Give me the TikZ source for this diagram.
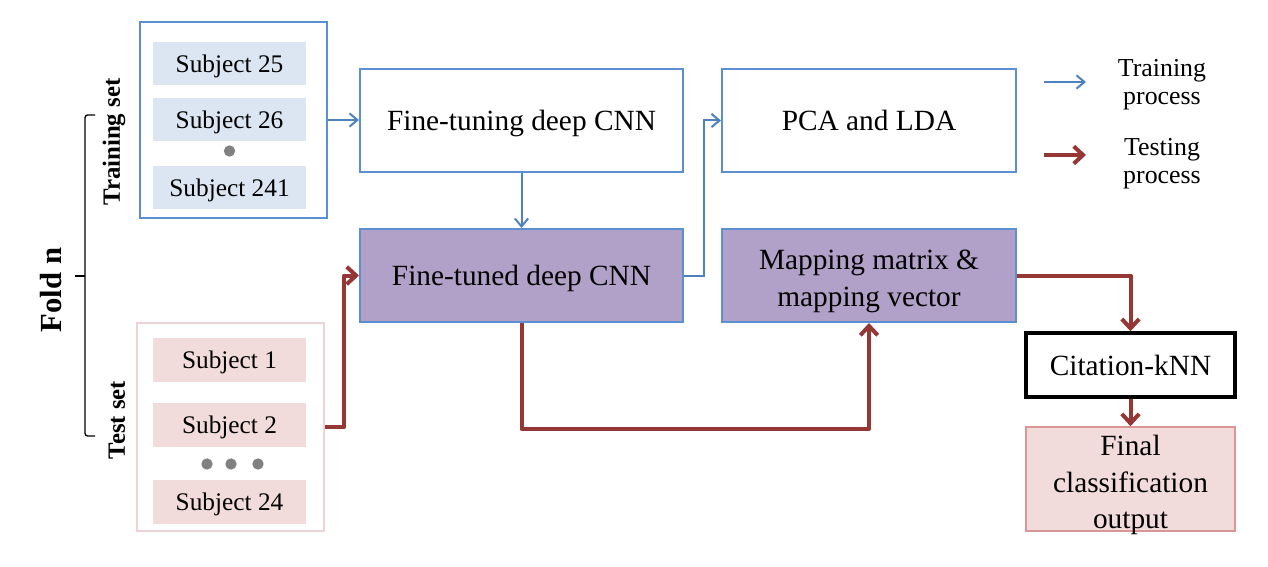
\documentclass[tikz,border=0pt]{standalone}
\usepackage{fontspec}
\setmainfont{Liberation Serif}
\usetikzlibrary{arrows.meta}
\definecolor{bline}{HTML}{4F81BD}
\definecolor{bbox}{HTML}{5B8FD2}
\definecolor{rline}{HTML}{953735}
\definecolor{purp}{HTML}{B1A0C7}
\definecolor{lblue}{HTML}{DCE6F2}
\definecolor{lpink}{HTML}{F2DCDB}
\definecolor{pinkbd}{HTML}{EDD3D3}
\definecolor{finbd}{HTML}{D99694}
\definecolor{dotgray}{HTML}{808080}
\begin{document}
\begin{tikzpicture}[x=0.75pt,y=-0.75pt,
  mainfont/.style={font=\fontsize{22}{27.5}\selectfont},
  subjfont/.style={font=\fontsize{19}{23}\selectfont},
  onelinemain/.style={text height=19.8pt,text depth=4.4pt},
  onelinesubj/.style={text height=17.1pt,text depth=3.8pt},
  bluebox/.style={draw=bbox,line width=1.5pt,inner sep=0pt,align=center,mainfont},
  purpbox/.style={bluebox,fill=purp},
  subjtrain/.style={fill=lblue,inner sep=0pt,minimum width=114.75pt,minimum height=32.25pt,subjfont,onelinesubj},
  subjtest/.style={fill=lpink,inner sep=0pt,minimum width=114.75pt,minimum height=33pt,subjfont,onelinesubj},
  barrow/.style={draw=bline,line width=1.5pt,-{Straight Barb[length=6pt,width=10pt,line width=1.5pt]}},
  rarrow/.style={draw=rline,line width=3pt,line join=round,-{Straight Barb[length=7pt,width=13pt,line width=3pt]}},
  legtext/.style={align=center,font=\fontsize{19.4}{21}\selectfont},
  sidelabel/.style={rotate=90,font=\bfseries\fontsize{18.6}{22}\selectfont},
  graydot/.style={circle,fill=dotgray,inner sep=0pt,minimum size=8.5pt}
]
\useasboundingbox (0,0) rectangle (1268,567);
\fill[white] (0,0) rectangle (1268,567);

% training set group
\node[draw=bbox,line width=1.5pt,inner sep=0pt,minimum width=140.25pt,minimum height=147pt] (train) at (233.5,120) {};
\node[subjtrain] (s25) at (229.5,63.5) {Subject 25};
\node[subjtrain] (s26) at (229.5,119.5) {Subject 26};
\node[graydot] (tdot) at (229.5,151) {};
\node[subjtrain] (s241) at (229.5,187.5) {Subject 241};

% test set group
\node[draw=pinkbd,line width=1.5pt,inner sep=0pt,minimum width=140.25pt,minimum height=156pt] (test) at (230.5,427) {};
\node[subjtest] (s1) at (229.5,360) {Subject 1};
\node[subjtest] (s2) at (229.5,425) {Subject 2};
\node[graydot] (d1) at (207,464) {};
\node[graydot] (d2) at (231,464) {};
\node[graydot] (d3) at (258,464) {};
\node[subjtest] (s24) at (229.5,501.5) {Subject 24};

% bracket and labels
\coordinate (bt) at (95,115);
\coordinate (bb) at (95,436);
\coordinate (bm) at (85,276);
\coordinate (bl) at (75,276);
\draw[line width=1pt,rounded corners=2pt] (bt) -- (85,115) -- (85,436) -- (bb);
\draw[line width=1pt] (bm) -- (bl);
\node[sidelabel] (trl) at (114,142) {Training set};
\node[sidelabel] (tel) at (117,420) {Test set};
\node[rotate=90,font=\bfseries\fontsize{23}{27}\selectfont] (fold) at (51,290) {Fold n};

% main boxes
\node[bluebox,onelinemain,minimum width=242.25pt,minimum height=77.25pt] (ft) at (521.5,120.5) {Fine-tuning deep CNN};
\node[bluebox,onelinemain,minimum width=220.5pt,minimum height=77.25pt] (pca) at (869,120.5) {PCA and LDA};
\node[purpbox,onelinemain,minimum width=242.25pt,minimum height=69.75pt] (ftd) at (521.5,275.5) {Fine-tuned deep CNN};
\node[purpbox,minimum width=220.5pt,minimum height=69.75pt] (map) at (869,275.5) {};
\node[align=center,mainfont,yshift=-4.5pt] (maptext) at (map.center) {Mapping matrix \&\\mapping vector};
\node[draw=black,line width=2.6pt,inner sep=0pt,minimum width=156.75pt,minimum height=48pt,mainfont,onelinemain] (knn) at (1130.5,365) {Citation-kNN};
\node[draw=finbd,fill=lpink,line width=1.2pt,inner sep=0pt,minimum width=156.75pt,minimum height=78pt] (fin) at (1130.5,479) {};
\node[align=center,font=\fontsize{22}{27.4}\selectfont,yshift=-4.5pt] (fintext) at (fin.center) {Final\\classification\\output};

% legend
\coordinate (lb1) at (1044,82);
\coordinate (lb2) at (1086,82);
\coordinate (lr1) at (1044,155);
\coordinate (lr2) at (1086,155);
\draw[barrow] (lb1) -- (lb2);
\draw[rarrow] (lr1) -- (lr2);
\node[legtext] (lgt) at (1162,85) {Training\\process};
\node[legtext] (lgs) at (1162,164) {Testing\\process};

% connectors
\draw[barrow] (train.east) -- (train.east -| ft.west);
\draw[barrow] (ft.south) -- (ftd.north);
\draw[barrow] (ftd.east) -- ++(20,0) |- (pca.west);
\draw[rarrow] (test.east) -- ++(19,0) |- (ftd.west);
\draw[rarrow] (ftd.south) -- ++(0,106) -| (map.south);
\draw[rarrow] (map.east) -| (knn.north);
\draw[rarrow] (knn.south) -- (fin.north);
\end{tikzpicture}
\end{document}
